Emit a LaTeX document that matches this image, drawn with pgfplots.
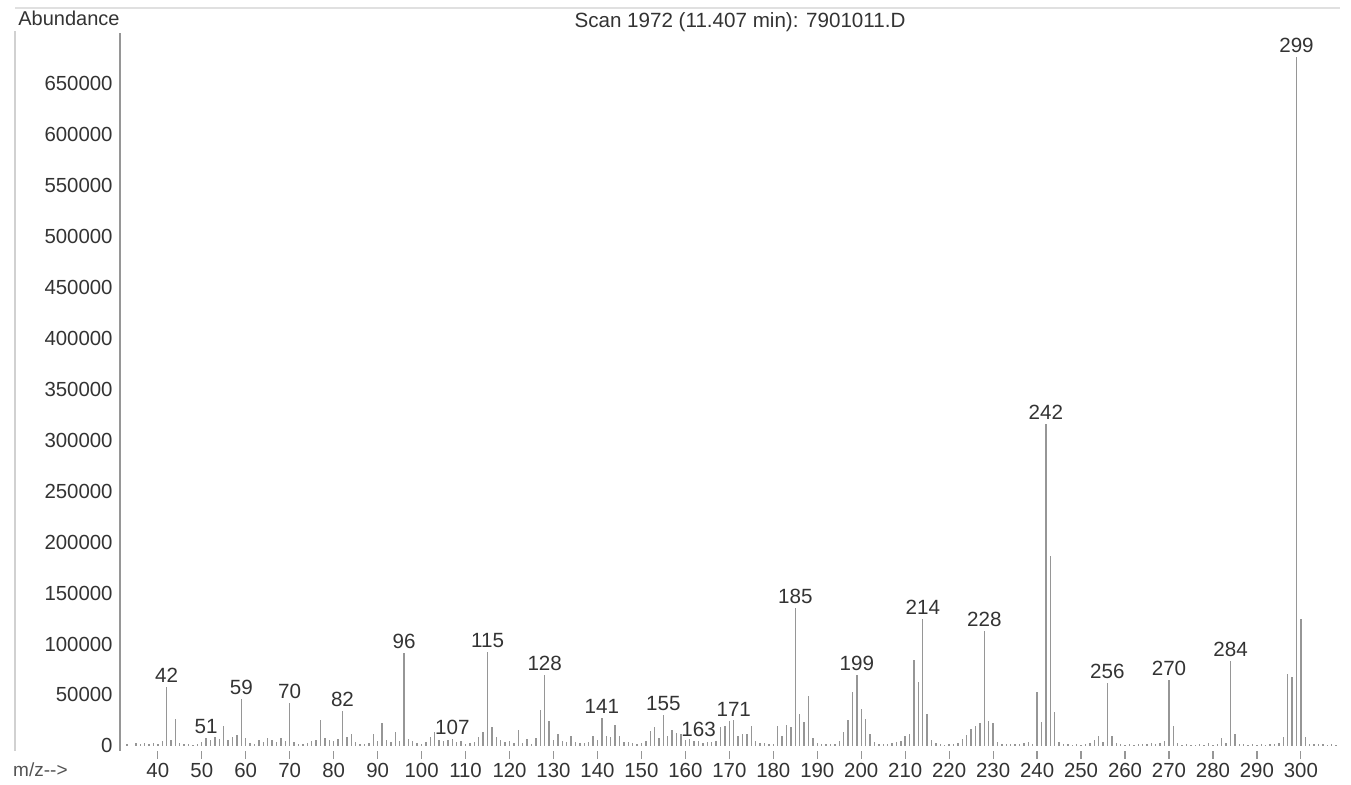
\documentclass[border=0pt]{standalone}
\usepackage{fontspec}
\setmainfont{Liberation Sans}
\usepackage{pgfplots}
\pgfplotsset{compat=1.18}
\usepackage{pgfplotstable}
\definecolor{ink}{HTML}{333333}
\definecolor{stick}{HTML}{969696}

% m/z and abundance
\pgfplotstableread{
mz abund
33 1500
35 3000
36 2000
37 2500
38 1500
39 3000
40 2000
41 5000
42 58000
43 6000
44 26000
45 3000
46 1500
47 2000
48 1000
49 2000
50 4000
51 8000
52 6000
53 9000
54 7000
55 20000
56 6000
57 9000
58 11000
59 46000
60 8000
61 3000
62 2000
63 6000
64 4000
65 8000
66 6000
67 4000
68 8000
69 5000
70 42000
71 4000
72 2000
73 1500
74 3000
75 5000
76 6000
77 25000
78 8000
79 6000
80 5000
81 7000
82 34000
83 9000
84 12000
85 4000
86 2000
87 2000
88 3000
89 12000
90 5000
91 22000
92 6000
93 4000
94 14000
95 5000
96 91000
97 7000
98 5000
99 3000
100 2000
101 4000
102 9000
103 14000
104 6000
105 5000
106 6000
107 7000
108 4000
109 5000
110 2000
111 3000
112 4000
113 9000
114 14000
115 92000
116 19000
117 9000
118 6000
119 4000
120 5000
121 3000
122 16000
123 3000
124 7000
125 2000
126 8000
127 35000
128 70000
129 24000
130 6000
131 12000
132 5000
133 4000
134 10000
135 4000
136 3000
137 3000
138 4000
139 10000
140 6000
141 27000
142 10000
143 9000
144 21000
145 10000
146 4000
147 4000
148 3000
149 2000
150 3000
151 5000
152 15000
153 19000
154 8000
155 30000
156 10000
157 16000
158 13000
159 12000
160 6000
161 7000
162 5000
163 5000
164 3000
165 4000
166 4000
167 5000
168 19000
169 20000
170 24000
171 25000
172 10000
173 12000
174 12000
175 20000
176 5000
177 3000
178 3000
179 2000
180 2000
181 20000
182 10000
183 21000
184 19000
185 135000
186 31000
187 23000
188 49000
189 8000
190 3000
191 2000
192 1500
193 2000
194 2000
195 5000
196 14000
197 25000
198 53000
199 70000
200 36000
201 26000
202 12000
203 4000
204 2000
205 1500
206 2000
207 3000
208 4000
209 5000
210 10000
211 12000
212 84000
213 63000
214 125000
215 31000
216 6000
217 3000
218 1500
219 1000
220 2000
221 1500
222 3000
223 7000
224 11000
225 17000
226 20000
227 22000
228 113000
229 24000
230 22000
231 4000
232 2000
233 1500
234 1500
235 2000
236 1500
237 3000
238 4000
239 2000
240 53000
241 23000
242 316000
243 186000
244 33000
245 4000
246 2000
247 1500
248 1000
249 1500
250 1000
251 2000
252 3000
253 6000
254 10000
255 4000
256 62000
257 10000
258 3000
259 1500
260 1000
261 1500
262 1000
263 1500
264 1500
265 2000
266 2500
267 1500
268 3000
269 5000
270 65000
271 20000
272 3000
273 1000
274 1500
275 1000
276 1000
277 1500
278 1000
279 2500
280 1000
281 2000
282 8000
283 3000
284 83000
285 12000
286 2000
287 1500
288 1000
289 1500
290 1000
291 1500
292 1000
293 1500
294 2000
295 3000
296 9000
297 71000
298 68000
299 676000
300 125000
301 9000
302 2000
303 1500
304 2000
305 1500
306 1000
307 1500
308 1000
}\spectrum

% labelled peaks
\pgfplotstableread{
mz abund lab
42 58000 42
51 8000 51
59 46000 59
70 42000 70
82 34000 82
96 91000 96
107 7000 107
115 92000 115
128 70000 128
141 27000 141
155 30000 155
163 5000 163
171 25000 171
185 135000 185
199 70000 199
214 125000 214
228 113000 228
242 316000 242
256 62000 256
270 65000 270
284 83000 284
299 676000 299
}\peaks

\begin{document}
\begin{tikzpicture}[x=1pt,y=1pt]
\useasboundingbox (-60,-17) rectangle (615.5,375.5);
\draw[black!18, line width=0.6pt] (-52.5,0) -- (-52.5,360);
\draw[black!12, line width=0.6pt] (-52.5,371.5) -- (610,371.5);
\begin{axis}[
  at={(0,0)}, anchor=south west,
  scale only axis, width=610pt, height=359pt,
  xmin=31.4, xmax=308.9, ymin=-5000, ymax=700000,
  axis lines=left,
  x axis line style={draw=none},
  y axis line style={-, draw=stick, line width=0.7pt},
  xtick={40,50,...,300},
  ytick={0,50000,...,650000},
  scaled y ticks=false,
  tick align=outside,
  xtick style={draw=stick, line width=0.6pt},
  ytick style={draw=none},
  major tick length=4pt,
  /pgf/number format/.cd, fixed, 1000 sep={}, assume math mode=true,
  /pgfplots/.cd,
  ticklabel style={font=\fontsize{10.2}{12}\selectfont, text=ink},
  yticklabel style={inner sep=0pt, xshift=0.5pt},
  xticklabel style={inner sep=0pt, yshift=-2pt},
  title={Scan 1972 (11.407 min): 7901011.D},
  every axis title/.style={at={(axis description cs:0.5,1)}, anchor=base,
    inner sep=0pt, xshift=5pt, yshift=2.5pt,
    font=\fontsize{10.3}{12}\selectfont, text=ink},
  ylabel={Abundance},
  every axis y label/.style={at={(axis description cs:0,1)}, anchor=base east,
    inner sep=0pt, yshift=3.5pt, font=\fontsize{10}{12}\selectfont, text=ink},
  xlabel={m/z-{}-{}>},
  every axis x label/.style={at={(axis description cs:0,0)}, anchor=base east,
    inner sep=0pt, xshift=-26pt, yshift=-13pt,
    font=\fontsize{9.5}{12}\selectfont, text=ink!85},
  clip=false,
]
\addplot[ycomb, draw=stick, line width=0.7pt] table[x=mz, y=abund]{\spectrum};
\addplot[draw=none, mark=none,
  nodes near coords, point meta=explicit symbolic,
  every node near coord/.style={anchor=south, inner sep=2pt,
    font=\fontsize{10.3}{12}\selectfont, text=ink}]
  table[x=mz, y=abund, meta=lab]{\peaks};
\end{axis}
\end{tikzpicture}
\end{document}
